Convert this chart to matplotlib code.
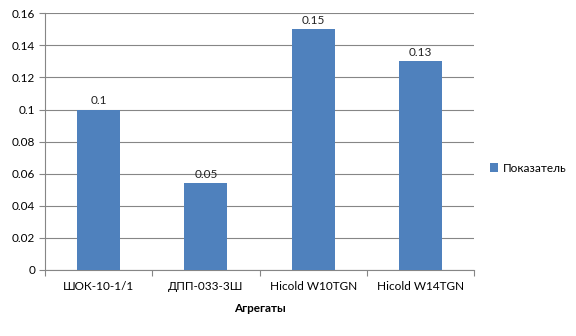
import numpy as np
import matplotlib.pyplot as plt

plt.rcParams['font.family'] = ['Lato', 'DejaVu Sans']

# data
categories = ["ШОК-10-1/1", "ДПП-033-3Ш", "Hicold W10TGN", "Hicold W14TGN"]
values = [0.100, 0.054, 0.150, 0.130]
series_name = "Показатель"

fig = plt.figure(figsize=(5.76, 3.36), dpi=100)
ax = fig.add_axes([45 / 576, 1 - 270 / 336, (474 - 45) / 576, (270 - 13.3) / 336])

x = np.arange(len(categories))
bars = ax.bar(x, values, width=0.4, color='#4F81BD', label=series_name, zorder=3)
for b, v in zip(bars, values):
    ax.text(b.get_x() + b.get_width() / 2, v + 0.002, f"{v:.2f}".rstrip('0'),
            ha='center', va='bottom', fontsize=8.5, color='#222222')

ax.set_xlim(-0.5, len(categories) - 0.5)
ax.set_ylim(0, 0.16)
ax.set_yticks(np.arange(0, 0.161, 0.02))
ax.set_yticklabels(["0", "0.02", "0.04", "0.06", "0.08", "0.1", "0.12", "0.14", "0.16"])
ax.set_xticks(x)
ax.set_xticklabels(categories)
ax.set_xticks(np.arange(-0.5, len(categories), 1), minor=True)
ax.tick_params(axis='x', which='major', length=0, pad=8, labelsize=8.5)
ax.tick_params(axis='x', which='minor', length=4, color='#868686', width=0.8)
ax.tick_params(axis='y', length=4, color='#868686', width=0.8, labelsize=8.5, pad=3)
ax.grid(axis='y', color='#868686', linewidth=0.8, zorder=0)
for s in ['top', 'right']:
    ax.spines[s].set_visible(False)
for s in ['left', 'bottom']:
    ax.spines[s].set_color('#868686')
    ax.spines[s].set_linewidth(0.8)

ax.set_xlabel("Агрегаты", fontweight='bold', fontsize=8.5, labelpad=8)

ax.legend(loc='center left', bbox_to_anchor=(479 / 576, 0.5), bbox_transform=fig.transFigure,
          frameon=False, fontsize=8.5, handlelength=0.7, handleheight=0.7, handletextpad=0.4)

fig.savefig("out.png", dpi=100)
